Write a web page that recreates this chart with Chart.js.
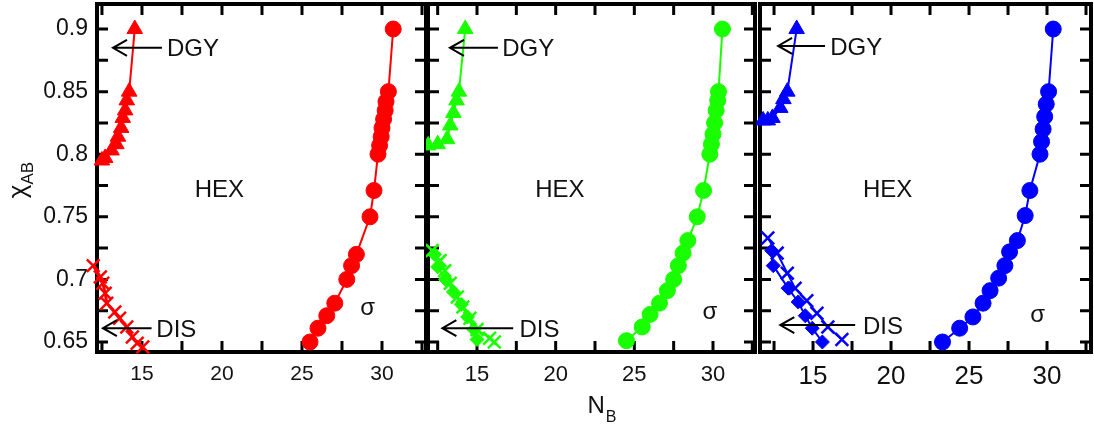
<!DOCTYPE html>
<html>
  <head>
    <title>Phase boundaries</title>
    <script src="https://cdn.jsdelivr.net/npm/chart.js"></script>
    <style>
      body { margin: 0; background: #fff; }
      #wrap { position: relative; width: 1094px; height: 428px; }
      #wrap canvas { position: absolute; top: 0; }
    </style>
  </head>
  <body>
    <div id="wrap">
      <canvas id="panel_red" width="430" height="428" style="left: 0px"></canvas>
      <canvas id="panel_green" width="332" height="428" style="left: 426px"></canvas>
      <canvas id="panel_blue" width="338" height="428" style="left: 756px"></canvas>
    </div>

    <script>
      //////////////////////////// DATA ////////////////////////////
      // ticks
      var xTicks = [10, 12.5, 15, 17.5, 20, 22.5, 25, 27.5, 30, 32.5];
      var xLabels = ["15", "20", "25", "30"];
      var yTicks = [0.65, 0.675, 0.7, 0.725, 0.75, 0.775, 0.8, 0.825, 0.85, 0.875, 0.9];
      var yLabels = ["0.65", "0.7", "0.75", "0.8", "0.85", "0.9"];

      // [N_B, chi_AB] pairs, red panel
      var redDGY = [[12.5, 0.795], [12.7, 0.797], [13.1, 0.803], [13.4, 0.808], [13.5, 0.814],
        [13.7, 0.821], [13.8, 0.829], [13.95, 0.835], [14.05, 0.843], [14.2, 0.85], [14.55, 0.9]];
      var redDIS = [[11.95, 0.711], [12.4, 0.702], [12.55, 0.697], [12.7, 0.689], [12.8, 0.681],
        [13.3, 0.674], [13.6, 0.669], [14.05, 0.662], [14.4, 0.654], [14.7, 0.649], [15.05, 0.646]];
      var redSigma = [[25.5, 0.65], [26.0, 0.661], [26.55, 0.671], [27.05, 0.681], [27.8, 0.7],
        [28.1, 0.711], [28.4, 0.72], [29.25, 0.75], [29.5, 0.771], [29.75, 0.8], [29.85, 0.807],
        [29.95, 0.814], [30.0, 0.821], [30.1, 0.828], [30.2, 0.835], [30.25, 0.842], [30.4, 0.85], [30.7, 0.9]];

      // green panel
      var greenDGY = [[11.9, 0.807], [12.5, 0.808], [13.1, 0.812], [13.3, 0.823], [13.5, 0.833],
        [13.7, 0.843], [13.85, 0.85], [14.25, 0.9]];
      var greenDIS = [[12.15, 0.723], [12.65, 0.715], [12.95, 0.707], [13.3, 0.697], [13.75, 0.686],
        [14.1, 0.678], [14.55, 0.669], [15.0, 0.66], [15.8, 0.653], [16.1, 0.65]];
      var greenDISb = [[12.3, 0.72], [12.5, 0.71], [13.0, 0.7], [13.5, 0.69], [14.0, 0.68],
        [14.4, 0.67], [14.8, 0.66], [15.0, 0.652]];
      var greenSigma = [[24.5, 0.651], [25.5, 0.662], [26.0, 0.672], [26.6, 0.681], [27.1, 0.691],
        [27.5, 0.7], [27.8, 0.711], [28.1, 0.721], [28.4, 0.731], [29.0, 0.75], [29.4, 0.771],
        [29.8, 0.8], [29.9, 0.808], [30.0, 0.816], [30.1, 0.825], [30.2, 0.835], [30.3, 0.843],
        [30.35, 0.85], [30.6, 0.9]];

      // blue panel
      var blueDGY = [[11.8, 0.827], [12.1, 0.827], [12.4, 0.829], [12.9, 0.837], [13.1, 0.844],
        [13.35, 0.85], [13.95, 0.9]];
      var blueDIS = [[12.1, 0.733], [12.7, 0.721], [13.35, 0.705], [13.85, 0.693], [14.6, 0.683],
        [15.25, 0.673], [15.95, 0.662], [16.85, 0.652]];
      var blueDISb = [[12.35, 0.723], [12.45, 0.711], [13.4, 0.693], [14.05, 0.682], [14.5, 0.671],
        [14.95, 0.661], [15.6, 0.65]];
      var blueSigma = [[23.3, 0.65], [24.4, 0.661], [25.25, 0.67], [25.9, 0.681], [26.35, 0.691],
        [26.9, 0.701], [27.3, 0.711], [27.6, 0.722], [28.1, 0.731], [28.6, 0.751], [28.9, 0.771],
        [29.55, 0.8], [29.65, 0.81], [29.75, 0.82], [29.85, 0.83], [29.95, 0.84], [30.1, 0.85], [30.4, 0.9]];

      var FONT = "'Liberation Sans', Arial, sans-serif";

      //////////////////////////// HELPERS ////////////////////////////
      function series(points, color, style, radius, lineWidth) {
        var cross = style === "crossRot";
        return {
          data: points.map(function (p) { return { x: p[0], y: p[1] }; }),
          showLine: true,
          tension: 0,
          borderColor: color,
          backgroundColor: color,
          borderWidth: lineWidth,
          pointStyle: style,
          pointRadius: radius,
          pointBorderColor: color,
          pointBackgroundColor: color,
          pointBorderWidth: cross ? 2.5 : 1,
          clip: false,
        };
      }

      function tickLabel(list) {
        return function (value) {
          var s = String(+Number(value).toFixed(3));
          return list.indexOf(s) >= 0 ? s : "";
        };
      }

      // no extra room for the end labels, the frame sits where the layout padding says
      function noPadding(s) {
        s.paddingLeft = 0;
        s.paddingRight = 0;
        s.paddingTop = 0;
        s.paddingBottom = 0;
      }

      function arrow(ctx, x1, x2, y) {
        ctx.beginPath();
        ctx.moveTo(x1, y);
        ctx.lineTo(x2, y);
        ctx.moveTo(x2 + 14, y - 8);
        ctx.lineTo(x2, y);
        ctx.lineTo(x2 + 14, y + 8);
        ctx.stroke();
      }

      // frame, inward ticks on all four sides, labels inside the panel
      var panelDecor = {
        id: "panelDecor",
        beforeDatasetsDraw: function (chart) {
          var ctx = chart.ctx, a = chart.chartArea;
          var sx = chart.scales.x, sy = chart.scales.y;
          ctx.save();
          ctx.strokeStyle = "#000";
          ctx.lineWidth = 3;
          ctx.beginPath();
          xTicks.forEach(function (v) {
            var px = sx.getPixelForValue(v);
            if (px < a.left || px > a.right) return;
            ctx.moveTo(px, a.bottom); ctx.lineTo(px, a.bottom - 11);
            ctx.moveTo(px, a.top); ctx.lineTo(px, a.top + 11);
          });
          yTicks.forEach(function (v) {
            var py = sy.getPixelForValue(v);
            ctx.moveTo(a.left, py); ctx.lineTo(a.left + 11, py);
            ctx.moveTo(a.right, py); ctx.lineTo(a.right - 11, py);
          });
          ctx.stroke();
          ctx.lineWidth = 4;
          ctx.strokeRect(a.left, a.top, a.right - a.left, a.bottom - a.top);
          ctx.restore();
        },
        afterDatasetsDraw: function (chart, args, opts) {
          var ctx = chart.ctx, a = chart.chartArea;
          var sx = chart.scales.x, sy = chart.scales.y;
          var n = opts.notes;
          ctx.save();
          ctx.strokeStyle = "#000";
          ctx.fillStyle = "#111";
          ctx.lineWidth = 2;
          ctx.font = "24px " + FONT;
          ctx.textBaseline = "middle";
          ctx.textAlign = "left";

          var yd = sy.getPixelForValue(n.dgy.y);
          arrow(ctx, sx.getPixelForValue(n.dgy.from), sx.getPixelForValue(n.dgy.to), yd);
          ctx.fillText("DGY", sx.getPixelForValue(n.dgy.text), yd + 2);

          var yi = sy.getPixelForValue(n.dis.y);
          arrow(ctx, sx.getPixelForValue(n.dis.from), sx.getPixelForValue(n.dis.to), yi);
          ctx.fillText("DIS", sx.getPixelForValue(n.dis.text), yi + 2);

          ctx.fillText("HEX", sx.getPixelForValue(n.hex.x), sy.getPixelForValue(n.hex.y));
          ctx.textAlign = "center";
          ctx.fillText("\u03c3", sx.getPixelForValue(n.sigma.x), sy.getPixelForValue(n.sigma.y));

          // axis titles
          ctx.textAlign = "left";
          ctx.textBaseline = "alphabetic";
          if (opts.yTitle) {
            ctx.save();
            ctx.translate(26, 180);
            ctx.rotate(-Math.PI / 2);
            ctx.font = "26px " + FONT;
            var w1 = ctx.measureText("\u03c7").width;
            ctx.font = "17px " + FONT;
            var w2 = ctx.measureText("AB").width;
            var x0 = -(w1 + w2) / 2;
            ctx.font = "26px " + FONT;
            ctx.fillText("\u03c7", x0, 0);
            ctx.font = "17px " + FONT;
            ctx.fillText("AB", x0 + w1, 7);
            ctx.restore();
          }
          if (opts.xTitle) {
            var cx = (a.left + a.right) / 2 - 4;
            ctx.font = "24px " + FONT;
            ctx.fillText("N", cx, 413);
            var wn = ctx.measureText("N").width;
            ctx.font = "16px " + FONT;
            ctx.fillText("B", cx + wn + 1, 422);
          }
          ctx.restore();
        },
      };

      function makePanel(id, sets, xMin, xMax, labelSize, labelPad, pad, decor, showY) {
        return new Chart(document.getElementById(id).getContext("2d"), {
          type: "scatter",
          data: { datasets: sets },
          options: {
            responsive: false,
            animation: false,
            layout: { padding: pad, autoPadding: false },
            plugins: {
              legend: { display: false },
              tooltip: { enabled: false },
              panelDecor: decor,
            },
            scales: {
              x: {
                type: "linear",
                min: xMin,
                max: xMax,
                grid: { display: false, drawTicks: false },
                border: { display: false },
                ticks: {
                  autoSkip: false,
                  maxRotation: 0,
                  padding: labelPad,
                  color: "#111",
                  font: { family: FONT, size: labelSize },
                  callback: tickLabel(xLabels),
                },
                afterBuildTicks: function (s) {
                  s.ticks = xTicks.filter(function (v) { return v >= xMin && v <= xMax; })
                    .map(function (v) { return { value: v }; });
                },
                afterFit: function (s) {
                  s.height = 76;
                  noPadding(s);
                },
              },
              y: {
                type: "linear",
                display: showY,
                min: 0.642,
                max: 0.92,
                grid: { display: false, drawTicks: false },
                border: { display: false },
                ticks: {
                  autoSkip: false,
                  padding: 9,
                  color: "#111",
                  font: { family: FONT, size: 23 },
                  callback: tickLabel(yLabels),
                },
                afterBuildTicks: function (s) {
                  s.ticks = yTicks.map(function (v) { return { value: v }; });
                },
                afterFit: function (s) {
                  s.width = showY ? 97 : 0;
                  noPadding(s);
                },
              },
            },
          },
          plugins: [panelDecor],
        });
      }

      var RED = "#ff0000", GREEN = "#19ff00", BLUE = "#0000ff";

      makePanel("panel_red", [
        series(redDGY, RED, "triangle", 9, 2),
        series(redDIS, RED, "crossRot", 9, 3),
        series(redSigma, RED, "circle", 8, 2),
      ], 12.19, 32.75, 21, 10, { left: 0, right: 4, top: 4, bottom: 0 },
        { notes: {
          dgy: { from: 16.25, to: 13.19, y: 0.885, text: 16.56 },
          dis: { from: 15.6, to: 12.56, y: 0.661, text: 15.9 },
          hex: { x: 18.3, y: 0.771 },
          sigma: { x: 29.1, y: 0.677 },
        }, yTitle: true }, true);

      makePanel("panel_green", [
        series(greenDGY, GREEN, "triangle", 9, 2),
        series(greenDISb, GREEN, "rectRot", 7, 2),
        series(greenDIS, GREEN, "crossRot", 9, 2),
        series(greenSigma, GREEN, "circle", 8, 2),
      ], 11.885, 32.67, 22, 10, { left: 2, right: 3, top: 4, bottom: 0 },
        { notes: {
          dgy: { from: 16.33, to: 13.28, y: 0.885, text: 16.6 },
          dis: { from: 17.3, to: 12.8, y: 0.661, text: 17.7 },
          hex: { x: 18.7, y: 0.771 },
          sigma: { x: 29.8, y: 0.674 },
        }, xTitle: true }, false);

      makePanel("panel_blue", [
        series(blueDGY, BLUE, "triangle", 9, 2),
        series(blueDISb, BLUE, "rectRot", 7, 2),
        series(blueDIS, BLUE, "crossRot", 9, 2),
        series(blueSigma, BLUE, "circle", 8, 2),
      ], 11.6, 32.82, 26, 9, { left: 4, right: 3, top: 4, bottom: 0 },
        { notes: {
          dgy: { from: 15.77, to: 12.76, y: 0.8865, text: 16.1 },
          dis: { from: 17.7, to: 12.9, y: 0.6635, text: 18.2 },
          hex: { x: 18.2, y: 0.771 },
          sigma: { x: 29.4, y: 0.671 },
        } }, false);
    </script>
  </body>
</html>
